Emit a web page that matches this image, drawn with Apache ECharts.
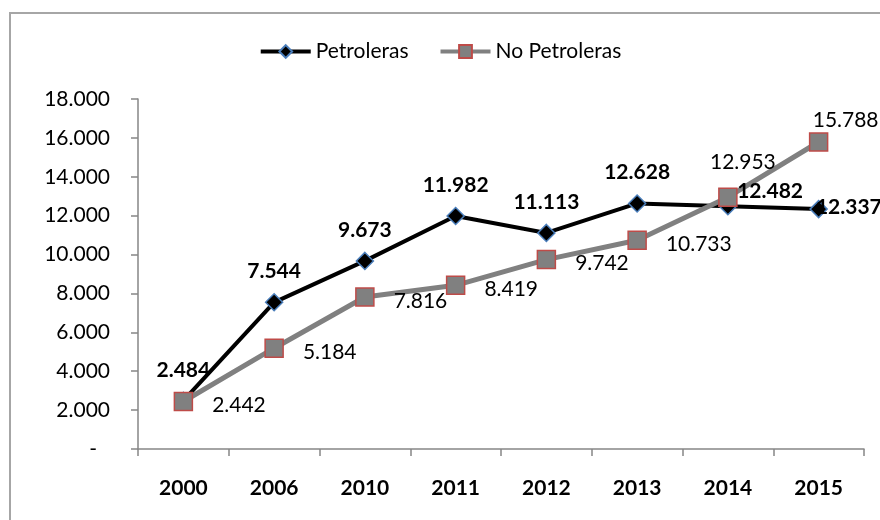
<!DOCTYPE html>
<html>
<head>
<meta charset="utf-8">
<script src="https://cdn.jsdelivr.net/npm/echarts@6/dist/echarts.min.js"></script>
<style>
  html, body { margin: 0; padding: 0; background: #fff; }
  #chart { width: 880px; height: 520px; }
</style>
</head>
<body>
<div id="chart"></div>
<script>
  const years = ['2000', '2006', '2010', '2011', '2012', '2013', '2014', '2015']
  const petroleras = [2484, 7544, 9673, 11982, 11113, 12628, 12482, 12337]
  const noPetroleras = [2442, 5184, 7816, 8419, 9742, 10733, 12953, 15788]

  const font = 'Lato, "Open Sans", sans-serif'
  const size = 21

  // miles con punto: 12482 -> 12.482
  function miles (v) {
    return String(v).replace(/\B(?=(\d{3})+(?!\d))/g, '.')
  }

  // etiquetas que no van en la posicion normal
  const petLabels = petroleras.map(function (v, i) {
    if (i === 6) return { value: v, label: { position: 'right', distance: 0, offset: [0, -15] } }
    if (i === 7) return { value: v, label: { position: 'right', distance: 0, offset: [-12, -2] } }
    return v
  })
  const noPetLabels = noPetroleras.map(function (v, i) {
    if (i === 6) return { value: v, label: { position: 'top', distance: 15, offset: [15, 0] } }
    if (i === 7) return { value: v, label: { position: 'top', distance: 2, offset: [27, 0] } }
    return v
  })

  const chart = echarts.init(document.getElementById('chart'))
  chart.setOption({
    animation: false,
    textStyle: { fontFamily: font },
    graphic: [{
      type: 'rect',
      shape: { x: 10, y: 13, width: 900, height: 600 },
      style: { fill: 'none', stroke: '#a6a6a6', lineWidth: 2 },
      silent: true
    }],
    legend: {
      top: 36,
      left: 'center',
      itemWidth: 50,
      itemHeight: 16,
      itemGap: 30,
      lineStyle: { width: 4 },
      textStyle: { fontFamily: font, fontSize: size, color: '#000' },
      data: ['Petroleras', 'No Petroleras']
    },
    grid: { left: 138, right: 16, top: 99, bottom: 71 },
    xAxis: {
      type: 'category',
      data: years,
      boundaryGap: true,
      axisLine: { lineStyle: { color: '#868686', width: 1.5 } },
      axisTick: { show: true, length: 7, lineStyle: { color: '#868686', width: 1.5 } },
      axisLabel: { margin: 29, fontFamily: font, fontSize: size, fontWeight: 'bold', color: '#000' }
    },
    yAxis: {
      type: 'value',
      min: 0,
      max: 18000,
      interval: 2000,
      splitLine: { show: false },
      axisLine: { show: true, lineStyle: { color: '#868686', width: 1.5 } },
      axisTick: { show: true, length: 7, lineStyle: { color: '#868686', width: 1.5 } },
      axisLabel: {
        margin: 28,
        fontFamily: font,
        fontSize: size,
        color: '#000',
        formatter: function (v) { return v === 0 ? '{d|-}' : miles(v) },
        rich: { d: { fontFamily: font, fontSize: size, color: '#000', padding: [0, 13, 0, 0] } }
      }
    },
    series: [
      {
        name: 'Petroleras',
        type: 'line',
        data: petLabels,
        symbol: 'diamond',
        symbolSize: 17,
        lineStyle: { color: '#000', width: 4 },
        itemStyle: { color: '#000', borderColor: '#4a7ebb', borderWidth: 1.5 },
        label: {
          show: true,
          position: 'top',
          distance: 11,
          fontFamily: font,
          fontSize: size,
          fontWeight: 'bold',
          color: '#000',
          formatter: function (p) { return miles(p.value) }
        }
      },
      {
        name: 'No Petroleras',
        type: 'line',
        data: noPetLabels,
        symbol: 'rect',
        symbolSize: 18,
        lineStyle: { color: '#808080', width: 5 },
        itemStyle: { color: '#808080', borderColor: '#be4b48', borderWidth: 1.5 },
        label: {
          show: true,
          position: 'right',
          distance: 19,
          offset: [0, 4],
          fontFamily: font,
          fontSize: size,
          color: '#000',
          formatter: function (p) { return miles(p.value) }
        }
      }
    ]
  })
</script>
</body>
</html>
